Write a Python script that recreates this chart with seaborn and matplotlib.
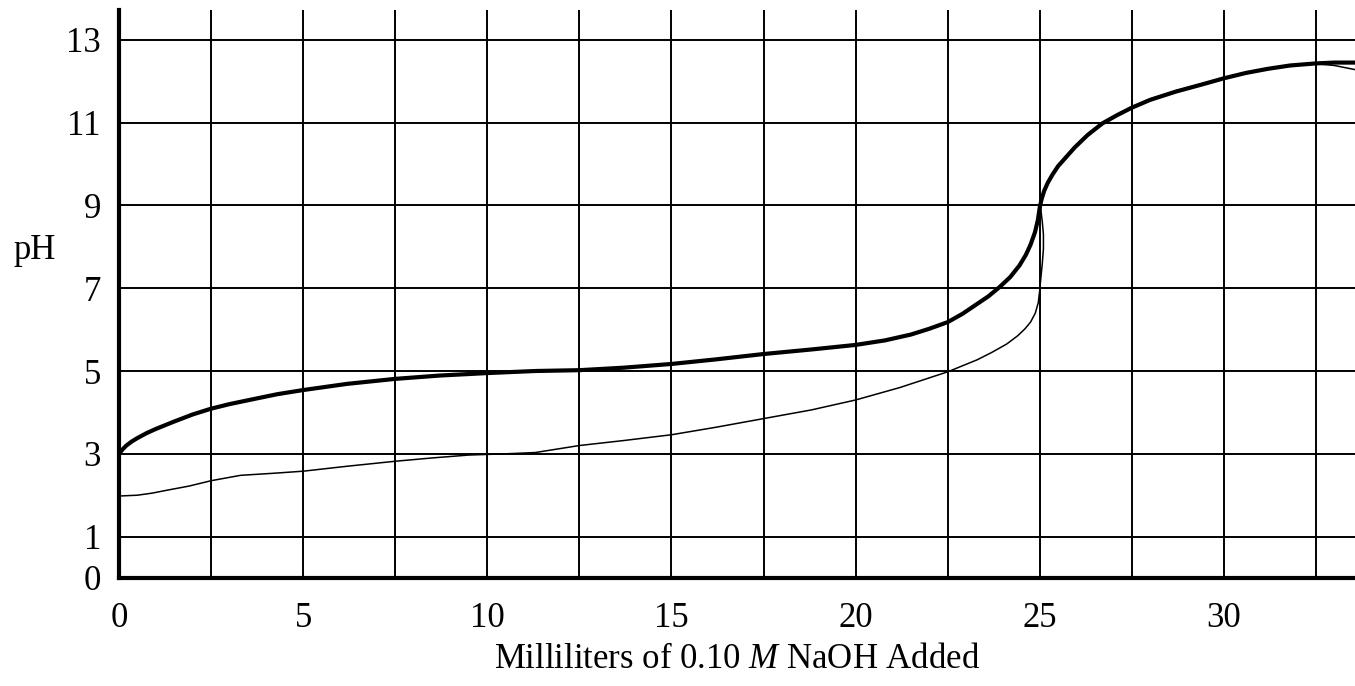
import matplotlib
matplotlib.use("Agg")
import matplotlib.pyplot as plt
import seaborn as sns
import pandas as pd
from matplotlib.ticker import FixedLocator, FixedFormatter, NullFormatter

# ---- data ----
weak_ml = [0, 0.1, 0.2, 0.35, 0.5, 0.75, 1.0, 1.5, 2.0, 2.5, 3.0, 3.7, 4.3, 5.0, 6.2, 7.5,
           8.7, 10.0, 11.3, 12.5, 13.7, 15.0, 16.2, 17.5, 18.8, 20.0, 20.8, 21.5,
           22.0, 22.5, 22.9, 23.3, 23.6, 23.9, 24.2, 24.45, 24.62, 24.75, 24.87,
           24.95, 25.0, 25.05, 25.12, 25.22, 25.35, 25.5, 25.7, 25.95, 26.3,
           26.7, 27.1, 27.5, 28.0, 28.7, 29.4, 30.0, 30.6, 31.2, 31.8, 32.5, 33.0, 33.56]
weak_ph = [3.0, 3.11, 3.2, 3.3, 3.38, 3.5, 3.6, 3.78, 3.95, 4.09, 4.2, 4.33, 4.44, 4.54, 4.69, 4.81,
           4.89, 4.95, 5.0, 5.02, 5.08, 5.17, 5.28, 5.41, 5.52, 5.63, 5.74, 5.88,
           6.02, 6.18, 6.38, 6.62, 6.8, 7.02, 7.27, 7.55, 7.8, 8.05, 8.35,
           8.65, 8.95, 9.15, 9.35, 9.55, 9.75, 9.95, 10.15, 10.4, 10.7,
           10.98, 11.18, 11.36, 11.55, 11.75, 11.92, 12.07, 12.2, 12.3, 12.38, 12.43, 12.45, 12.45]

strong_ml = [0, 0.5, 0.9, 1.3, 1.9, 2.5, 3.3, 4.2, 5.0, 6.2, 7.5, 8.5, 9.5, 10.5, 11.3,
             12.5, 13.7, 15.0, 16.2, 17.5, 18.8, 20.0, 21.2, 22.5, 23.3, 23.7, 24.1,
             24.4, 24.6, 24.75, 24.88, 24.96, 25.0, 25.03, 25.07, 25.1, 25.1, 25.07,
             25.03, 25.05, 25.12, 25.22, 25.35, 25.5, 25.7, 25.95, 26.3, 26.7, 27.1,
             27.5, 28.0, 28.7, 29.4, 30.0, 30.6, 31.2, 31.8, 32.5, 33.0, 33.56]
strong_ph = [1.98, 2.0, 2.05, 2.12, 2.22, 2.35, 2.48, 2.53, 2.58, 2.7, 2.82, 2.9, 2.97, 3.0, 3.03,
             3.2, 3.32, 3.46, 3.64, 3.85, 4.06, 4.3, 4.6, 4.98, 5.27, 5.45, 5.65,
             5.85, 6.02, 6.18, 6.4, 6.65, 6.95, 7.25, 7.6, 7.95, 8.3, 8.6,
             8.9, 9.17, 9.37, 9.57, 9.77, 9.97, 10.17, 10.42, 10.72, 11.0, 11.2,
             11.38, 11.57, 11.77, 11.94, 12.08, 12.21, 12.31, 12.38, 12.42, 12.38, 12.28]

x_major = [0, 5, 10, 15, 20, 25, 30]
x_minor = [2.5, 7.5, 12.5, 17.5, 22.5, 27.5, 32.5]
y_major = [0, 1, 3, 5, 7, 9, 11, 13]
y_minor = [2, 4, 6, 8, 10, 12]
x_label = "Milliliters of 0.10 $\\mathit{M}$ NaOH Added"
y_label = "pH"

# ---- style ----
sns.set_style("white")
plt.rcParams['font.family'] = ['Liberation Serif', 'DejaVu Serif']
plt.rcParams['mathtext.fontset'] = 'custom'
plt.rcParams['mathtext.rm'] = 'Liberation Serif'
plt.rcParams['mathtext.it'] = 'Liberation Serif:italic'
plt.rcParams['axes.edgecolor'] = 'black'
plt.rcParams['axes.labelcolor'] = 'black'
plt.rcParams['xtick.color'] = 'black'
plt.rcParams['ytick.color'] = 'black'
plt.rcParams['text.color'] = 'black'

fig = plt.figure(figsize=(13.55, 6.86), dpi=100)
ax = fig.add_axes([119 / 1355, 108 / 686, 1236 / 1355, 568 / 686])

df_weak = pd.DataFrame({"ml": weak_ml, "pH": weak_ph})
df_strong = pd.DataFrame({"ml": strong_ml, "pH": strong_ph})

sns.lineplot(data=df_strong, x="ml", y="pH", sort=False, estimator=None,
             color="black", linewidth=1.1, ax=ax, zorder=3)
sns.lineplot(data=df_weak, x="ml", y="pH", sort=False, estimator=None,
             color="black", linewidth=3.0, ax=ax, zorder=4)
for ln in ax.get_lines():
    ln.set_solid_joinstyle("round")
    ln.set_solid_capstyle("round")

ax.set_xlim(0, 33.56)
ax.set_ylim(0, 13.72)

ax.xaxis.set_major_locator(FixedLocator(x_major))
ax.xaxis.set_minor_locator(FixedLocator(x_minor))
ax.xaxis.set_major_formatter(FixedFormatter([str(v) for v in x_major]))
ax.xaxis.set_minor_formatter(NullFormatter())
ax.yaxis.set_major_locator(FixedLocator(y_major))
ax.yaxis.set_minor_locator(FixedLocator(y_minor))
ax.yaxis.set_major_formatter(FixedFormatter([str(v) for v in y_major]))
ax.yaxis.set_minor_formatter(NullFormatter())

ax.grid(True, which="both", axis="x", color="black", linewidth=1.4)
ax.grid(True, which="major", axis="y", color="black", linewidth=1.4)
ax.set_axisbelow(True)

for side in ("top", "right"):
    ax.spines[side].set_visible(False)
for side in ("left", "bottom"):
    ax.spines[side].set_linewidth(3.0)
    ax.spines[side].set_color("black")
    ax.spines[side].set_zorder(5)

ax.tick_params(axis="x", which="major", direction="out", length=12, width=1.4,
               labelsize=25, pad=5)
ax.tick_params(axis="x", which="minor", direction="out", length=6, width=1.4)
ax.tick_params(axis="y", which="major", direction="out", length=8, width=1.4,
               labelsize=25, pad=5)
ax.tick_params(axis="y", which="minor", direction="inout", length=12, width=1.4)

ax.set_xlabel(x_label, fontsize=25, labelpad=6)
ax.set_ylabel(y_label, fontsize=25, rotation=0, ha="center", va="center")
ax.yaxis.set_label_coords(-0.068, 0.577)

fig.savefig("out.png", dpi=100)
